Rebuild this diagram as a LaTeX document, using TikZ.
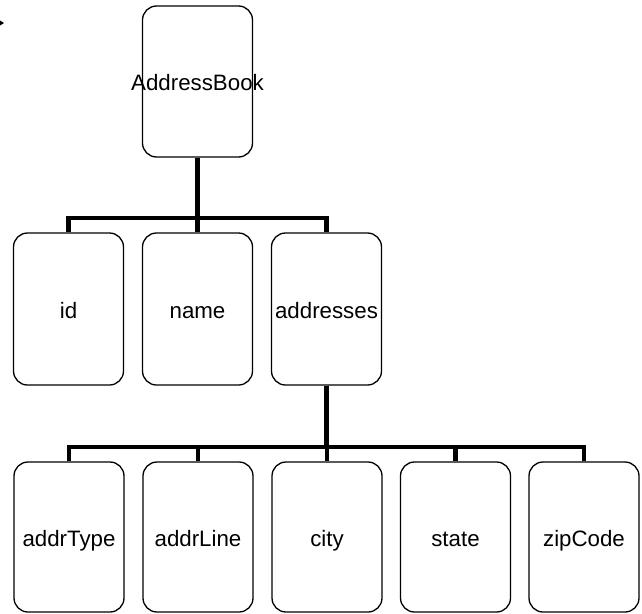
\documentclass[tikz,border=0pt]{standalone}
\usepackage{fontspec}
\setmainfont{Liberation Sans}
\begin{document}
\begin{tikzpicture}[x=1pt,y=-1pt,
  box/.style={draw=black, line width=1.3pt, rounded corners=14pt, inner sep=0pt,
    minimum width=110pt, text height=20pt, text depth=2pt,
    font=\fontsize{22.3}{26}\selectfont},
  toprow/.style={box, minimum height=151pt},
  midrow/.style={box, minimum height=152pt},
  botrow/.style={box, minimum height=150pt},
  conn/.style={draw=black, line width=4.8pt}]
\useasboundingbox (0,0) rectangle (642,613);
% small arrow fragment at top-left
\fill[black] (0,20.5) -- (4,23) -- (0,25.5) -- cycle;
% nodes
\node[toprow] (ab) at (197.5,81.5) {\makebox[0pt]{AddressBook}};
\node[midrow] (id) at (68.5,309) {\makebox[0pt]{id}};
\node[midrow] (name) at (197.5,309) {\makebox[0pt]{name}};
\node[midrow] (addr) at (326.5,309) {\makebox[0pt]{addresses}};
\node[botrow] (type) at (69,537) {\makebox[0pt]{addrType}};
\node[botrow] (line) at (198,537) {\makebox[0pt]{addrLine}};
\node[botrow] (city) at (327,537) {\makebox[0pt]{city}};
\node[botrow] (state) at (455.5,537) {\makebox[0pt]{state}};
\node[botrow] (zip) at (584,537) {\makebox[0pt]{zipCode}};
% bar coordinates
\coordinate (b1) at (197.5,218);
\coordinate (b2) at (326.5,447);
% connectors
\foreach \c in {id,name,addr}
  \draw[conn] (ab.south) -- (ab.south |- b1) -| (\c.north);
\foreach \c in {type,line,city,state,zip}
  \draw[conn] (addr.south) -- (addr.south |- b2) -| (\c.north);
\end{tikzpicture}
\end{document}
